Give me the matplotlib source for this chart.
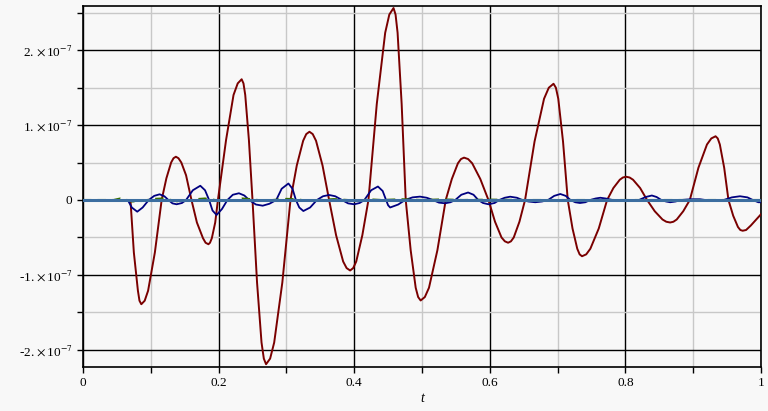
import matplotlib
matplotlib.use("Agg")
import matplotlib.pyplot as plt
from matplotlib.ticker import MultipleLocator, FixedLocator, FixedFormatter

# values, v in units of 1e-7
red_t = [0.000, 0.070, 0.075, 0.081, 0.0833, 0.086, 0.091, 0.096, 0.106, 0.116,
         0.123, 0.130, 0.1335, 0.137, 0.1408, 0.145, 0.152, 0.160, 0.168, 0.177,
         0.1808, 0.185, 0.1873, 0.190, 0.195, 0.199, 0.211, 0.222, 0.2282, 0.234,
         0.2367, 0.2393, 0.2447, 0.250, 0.2567, 0.2633, 0.2667, 0.270, 0.276, 0.282,
         0.294, 0.306, 0.3153, 0.3247, 0.3293, 0.334, 0.3388, 0.3437, 0.3533, 0.363,
         0.3733, 0.3837, 0.3888, 0.394, 0.3985, 0.403, 0.412, 0.421, 0.4333, 0.4457,
         0.4518, 0.458, 0.461, 0.464, 0.470, 0.476, 0.4833, 0.4907, 0.4943, 0.498,
         0.5042, 0.5103, 0.5227, 0.535, 0.544, 0.553, 0.5575, 0.562, 0.568, 0.574,
         0.586, 0.598, 0.6077, 0.6173, 0.6222, 0.627, 0.6312, 0.6353, 0.6437, 0.652,
         0.666, 0.680, 0.687, 0.694, 0.6975, 0.701, 0.708, 0.715, 0.722, 0.729,
         0.7325, 0.736, 0.7422, 0.7483, 0.7607, 0.773, 0.7823, 0.7917, 0.7963, 0.801,
         0.8062, 0.8113, 0.8217, 0.832, 0.8433, 0.8547, 0.8603, 0.866, 0.8708, 0.8757,
         0.8853, 0.895, 0.9077, 0.9203, 0.9267, 0.933, 0.9362, 0.9393, 0.9457, 0.952,
         0.959, 0.966, 0.9695, 0.973, 0.978, 0.985, 1.000]
red_v = [0.0, 0.0, -0.70, -1.21, -1.343, -1.39, -1.343, -1.21, -0.70, 0.0,
         0.29, 0.50, 0.557, 0.577, 0.557, 0.50, 0.33, 0.0, -0.30, -0.51,
         -0.570, -0.59, -0.570, -0.51, -0.30, 0.0, 0.80, 1.40, 1.555, 1.61,
         1.555, 1.40, 0.80, 0.0, -1.10, -1.90, -2.115, -2.19, -2.115, -1.90,
         -1.10, 0.0, 0.46, 0.79, 0.879, 0.91, 0.879, 0.79, 0.46, 0.0,
         -0.47, -0.82, -0.908, -0.94, -0.908, -0.82, -0.47, 0.0, 1.28, 2.23,
         2.473, 2.56, 2.473, 2.23, 1.28, 0.0, -0.67, -1.17, -1.294, -1.34,
         -1.294, -1.17, -0.67, 0.0, 0.28, 0.49, 0.546, 0.565, 0.546, 0.49,
         0.28, 0.0, -0.29, -0.50, -0.551, -0.57, -0.551, -0.50, -0.29, 0.0,
         0.78, 1.35, 1.497, 1.55, 1.497, 1.35, 0.78, 0.0, -0.38, -0.65,
         -0.725, -0.75, -0.725, -0.65, -0.38, 0.0, 0.16, 0.27, 0.30, 0.31,
         0.30, 0.27, 0.16, 0.0, -0.15, -0.26, -0.29, -0.30, -0.29, -0.26,
         -0.15, 0.0, 0.43, 0.74, 0.821, 0.85, 0.821, 0.74, 0.43, 0.0,
         -0.21, -0.36, -0.40, -0.41, -0.40, -0.34, -0.19]

navy_t = [0.0, 0.066, 0.072, 0.080, 0.088, 0.097, 0.105, 0.113, 0.120, 0.126,
          0.132, 0.138, 0.146, 0.152, 0.162, 0.173, 0.180, 0.186, 0.191, 0.197,
          0.205, 0.213, 0.221, 0.230, 0.238, 0.245, 0.255, 0.265, 0.275, 0.285,
          0.293, 0.303, 0.309, 0.314, 0.319, 0.325, 0.335, 0.345, 0.354, 0.363,
          0.372, 0.382, 0.391, 0.400, 0.408, 0.415, 0.425, 0.435, 0.442, 0.447,
          0.450, 0.453, 0.465, 0.475, 0.486, 0.497, 0.507, 0.516, 0.525, 0.534,
          0.542, 0.549, 0.558, 0.568, 0.576, 0.583, 0.590, 0.598, 0.607, 0.614,
          0.622, 0.630, 0.640, 0.648, 0.657, 0.667, 0.677, 0.686, 0.695, 0.704,
          0.712, 0.719, 0.726, 0.733, 0.741, 0.748, 0.756, 0.763, 0.771, 0.781,
          0.790, 0.800, 0.810, 0.820, 0.830, 0.839, 0.846, 0.853, 0.860, 0.866,
          0.874, 0.882, 0.896, 0.910, 0.918, 0.928, 0.945, 0.957, 0.969, 0.980,
          0.988, 0.996, 1.000]
navy_v = [0.0, 0.0, -0.10, -0.156, -0.10, 0.0, 0.055, 0.076, 0.05, 0.0,
          -0.045, -0.057, -0.04, 0.0, 0.13, 0.19, 0.13, 0.0, -0.14, -0.20,
          -0.12, 0.0, 0.07, 0.09, 0.06, 0.0, -0.06, -0.076, -0.05, 0.0,
          0.15, 0.22, 0.15, 0.0, -0.10, -0.147, -0.10, 0.0, 0.05, 0.067,
          0.05, 0.0, -0.045, -0.057, -0.04, 0.0, 0.13, 0.18, 0.12, 0.0,
          -0.07, -0.10, -0.06, 0.0, 0.035, 0.045, 0.03, 0.0, -0.035, -0.044,
          -0.03, 0.0, 0.07, 0.10, 0.07, 0.0, -0.04, -0.057, -0.04, 0.0,
          0.03, 0.044, 0.03, 0.0, -0.02, -0.03, -0.02, 0.0, 0.055, 0.08,
          0.055, 0.0, -0.03, -0.04, -0.03, 0.0, 0.02, 0.03, 0.02, 0.0,
          -0.012, -0.015, -0.01, 0.0, 0.04, 0.06, 0.04, 0.0, -0.02, -0.03,
          -0.02, 0.0, 0.01, 0.01, 0.0, -0.01, 0.0, 0.035, 0.05, 0.035,
          0.0, -0.03, -0.03]

green_t = [0.0, 0.045, 0.055, 0.065, 0.072, 0.085, 0.095, 0.105, 0.118, 0.13,
           0.14, 0.155, 0.165, 0.18, 0.195, 0.21, 0.225, 0.235, 0.25, 0.265,
           0.28, 0.30, 0.315, 0.33, 0.35, 0.37, 0.39, 0.41, 0.42, 0.44,
           0.47, 0.50, 0.53, 0.56, 0.60, 0.65, 1.0]
green_v = [0.0, 0.0, 0.02, 0.0, -0.02, -0.015, 0.0, 0.015, 0.02, 0.0,
           -0.02, -0.01, 0.01, 0.02, 0.0, -0.015, 0.0, 0.02, 0.01, -0.01,
           0.0, 0.015, 0.01, -0.01, 0.0, 0.012, 0.0, -0.01, 0.01, 0.0,
           0.01, 0.0, 0.008, 0.0, 0.005, 0.0, 0.0]

flat_t = [0.0, 1.0]
flat_v = [0.0, 0.0]

y_ticks = [-2, -1, 0, 1, 2]
y_labels = [r"-2. $\times\,$10$^{-7}$", r"-1. $\times\,$10$^{-7}$", "0",
            r"1. $\times\,$10$^{-7}$", r"2. $\times\,$10$^{-7}$"]
x_ticks = [0, 0.2, 0.4, 0.6, 0.8, 1.0]
x_labels = ["0", "0.2", "0.4", "0.6", "0.8", "1"]

plt.rcParams["font.family"] = ["Liberation Serif", "DejaVu Serif"]
plt.rcParams["mathtext.fontset"] = "stix"

bg = "#f8f8f8"
fig = plt.figure(figsize=(7.68, 4.11), dpi=100, facecolor=bg)
ax = fig.add_axes([83 / 768, 1 - 367 / 411, 678 / 768, 361 / 411])
ax.set_facecolor(bg)

s = 1e-7
ax.plot(red_t, [v * s for v in red_v], color="#7a0000", lw=1.4, zorder=3)
ax.plot(navy_t, [v * s for v in navy_v], color="#000080", lw=1.3, zorder=4)
ax.plot(green_t, [v * s for v in green_v], color="#3a7000", lw=1.5,
        ls=(0, (4, 3)), zorder=5)
ax.plot(flat_t, flat_v, color="#3c6ea0", lw=2.2, zorder=6)

ax.set_xlim(0, 1)
ax.set_ylim(-2.227e-7, 2.587e-7)

ax.yaxis.set_major_locator(FixedLocator([v * s for v in y_ticks]))
ax.yaxis.set_major_formatter(FixedFormatter(y_labels))
ax.yaxis.set_minor_locator(MultipleLocator(0.5e-7))
ax.xaxis.set_major_locator(FixedLocator(x_ticks))
ax.xaxis.set_major_formatter(FixedFormatter(x_labels))
ax.xaxis.set_minor_locator(MultipleLocator(0.1))

ax.grid(which="major", color="black", lw=1.0, zorder=1)
ax.grid(which="minor", color="#c8c8c8", lw=1.0, zorder=0)
ax.set_axisbelow(True)

ax.tick_params(which="both", direction="out", length=4, width=1,
               labelsize=9.5, top=False, right=False)
for sp in ax.spines.values():
    sp.set_color("black")
    sp.set_linewidth(1.2)

ax.set_xlabel("t", fontstyle="italic", fontsize=10, labelpad=2)

fig.savefig("out.png", dpi=100, facecolor=bg)
